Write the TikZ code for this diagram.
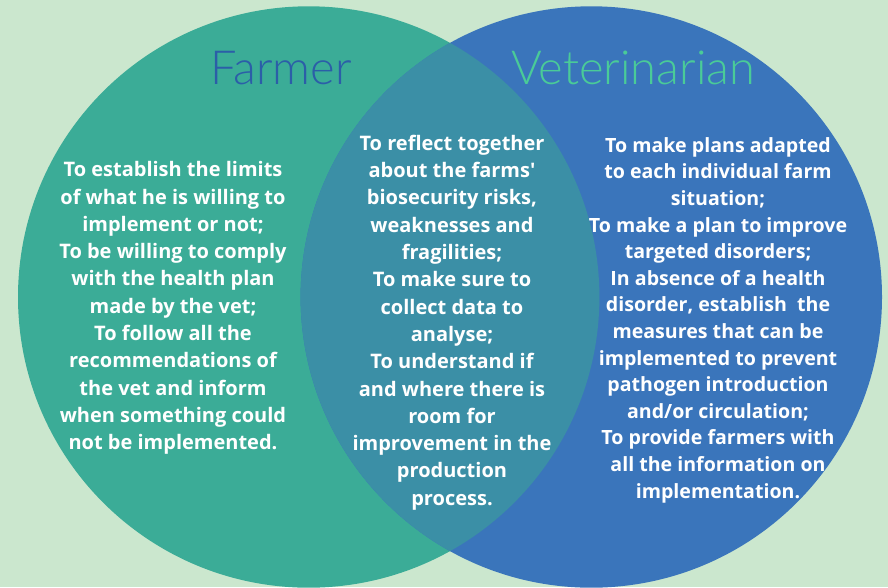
\documentclass[tikz,border=0pt]{standalone}
\usepackage{fontspec}
\setmainfont{Open Sans}
\newfontfamily\titlefont{Lato Light}
\definecolor{bgc}{HTML}{CBE7CE}
\definecolor{farmc}{HTML}{3BAC97}
\definecolor{vetc}{HTML}{3A75BB}
\definecolor{bothc}{HTML}{3B8FA6}
\definecolor{farmtitle}{HTML}{2B5EA8}
\definecolor{vettitle}{HTML}{4ACB98}
\tikzset{
  body/.style={text=white, align=center, font=\fontsize{20}{27.3}\selectfont\bfseries, inner sep=0pt},
  title/.style={font=\fontsize{47}{50}\selectfont\titlefont, inner sep=0pt}
}
\begin{document}
\begin{tikzpicture}[x=1pt,y=-1pt]
\fill[bgc] (0,0) rectangle (888,587);
\useasboundingbox (0,0) rectangle (888,587);
\fill[farmc] (308.7,297) circle[radius=290.7];
\fill[vetc] (591.3,297) circle[radius=290.7];
\begin{scope}
\clip (308.7,297) circle[radius=290.7];
\fill[bothc] (591.3,297) circle[radius=290.7];
\end{scope}
\node[title, text=farmtitle] (farmer) at (281,68) {Farmer};
\node[title, text=vettitle] (vet) at (633,68) {Veterinarian};
\node[body] (left) at (173,308) {To establish the limits\\of what he is willing to\\implement or not;\\To be willing to comply\\with the health plan\\made by the vet;\\To follow all the\\recommendations of\\the vet and inform\\when something could\\not be implemented.};
\node[body] (mid) at (452,322.5) {To reflect together\\about the farms\textquotesingle\\biosecurity risks,\\weaknesses and\\fragilities;\\To make sure to\\collect data to\\analyse;\\To understand if\\and where there is\\room for\\improvement in the\\production\\process.};
\node[body, font=\fontsize{19.6}{26.6}\selectfont\bfseries] (right) at (718,320) {To make plans adapted\\to each individual farm\\situation;\\To make a plan to improve\\targeted disorders;\\In absence of a health\\disorder, establish\ \ the\\measures that can be\\implemented to prevent\\pathogen introduction\\and/or circulation;\\To provide farmers with\\all the information on\\implementation.};
\end{tikzpicture}
\end{document}
